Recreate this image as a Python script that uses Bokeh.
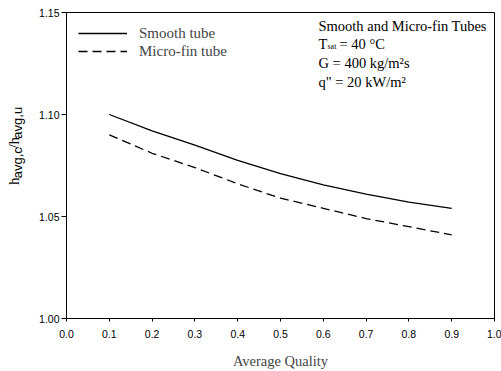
import math
from bokeh.plotting import figure
from bokeh.models import FixedTicker, PrintfTickFormatter, Label, Range1d
from bokeh.layouts import row
from bokeh.core.properties import value
from bokeh.embed import file_html
from bokeh.resources import INLINE

# ---- data ----
quality = [0.1, 0.2, 0.3, 0.4, 0.5, 0.6, 0.7, 0.8, 0.9]
smooth = [1.100, 1.092, 1.085, 1.0775, 1.071, 1.0655, 1.061, 1.057, 1.054]
microfin = [1.090, 1.081, 1.074, 1.066, 1.059, 1.054, 1.049, 1.045, 1.041]

x_ticks = [0.0, 0.1, 0.2, 0.3, 0.4, 0.5, 0.6, 0.7, 0.8, 0.9, 1.0]
y_ticks = [1.00, 1.05, 1.10, 1.15]

# y-axis title pieces (main text / subscript)
ylabel_parts = ["h", "avg,c", "/h", "avg,u"]

SERIF = "Liberation Serif"
SANS = "Liberation Sans"

LAB_W = 30

p = figure(width=501 - LAB_W, height=371, output_backend="svg", toolbar_location=None,
           x_range=Range1d(0, 1), y_range=Range1d(1.0, 1.15),
           min_border_left=66 - LAB_W, min_border_right=7, min_border_top=12,
           min_border_bottom=53)

p.xgrid.visible = False
p.ygrid.visible = False
p.outline_line_color = "black"
p.outline_line_width = 1
p.background_fill_color = "white"
p.border_fill_color = "white"

p.line(quality, smooth, line_color="black", line_width=1.3, legend_label="Smooth tube")
p.line(quality, microfin, line_color="black", line_width=1.3, line_dash="9 5",
       legend_label="Micro-fin tube")

# axes
for ax in (p.xaxis[0], p.yaxis[0]):
    ax.axis_line_color = "black"
    ax.major_tick_line_color = "black"
    ax.minor_tick_line_color = None
    ax.major_tick_in = 0
    ax.major_label_text_font = SANS
    ax.major_label_text_font_size = "10.5px"
    ax.major_label_text_color = "black"

p.xaxis.ticker = FixedTicker(ticks=x_ticks)
p.xaxis.formatter = PrintfTickFormatter(format="%.1f")
p.xaxis.major_tick_out = 3
p.xaxis.major_label_standoff = 8
p.xaxis.axis_label = "Average Quality"
p.xaxis.axis_label_text_font = SERIF
p.xaxis.axis_label_text_font_style = "normal"
p.xaxis.axis_label_text_font_size = "14.5px"
p.xaxis.axis_label_standoff = 12

p.yaxis.ticker = FixedTicker(ticks=y_ticks)
p.yaxis.formatter = PrintfTickFormatter(format="%.2f")
p.yaxis.major_tick_out = 5
p.yaxis.major_label_standoff = 2

# legend
lg = p.legend[0]
lg.location = "top_left"
lg.margin = 8
lg.padding = 4
lg.spacing = 0
lg.glyph_width = 49
lg.glyph_height = 18
lg.label_height = 18
lg.label_standoff = 12
lg.label_text_font = SERIF
lg.label_text_font_size = "15px"
lg.background_fill_alpha = 0
lg.border_line_alpha = 0

# annotation block (top right)
def ann(text, x, y, size="14.5px"):
    p.add_layout(Label(x=x, y=y, x_units="screen", y_units="screen", text=text,
                       text_font=SERIF, text_font_size=size,
                       text_align="left", text_baseline="middle", text_color="black"))

ann("Smooth and Micro-fin Tubes", 252, 306 - 13)
ann("T", 252, 306 - 31)
ann("sat", 261, 306 - 34, "8px")
ann("= 40 °C", 273, 306 - 31)
ann("G = 400 kg/m²s", 252, 306 - 50)
ann("q\" = 20 kW/m²", 252, 306 - 69)

# ---- narrow strip holding the rotated y-axis title ----
lab = figure(width=LAB_W, height=371, output_backend="svg", toolbar_location=None,
             x_range=Range1d(0, LAB_W), y_range=Range1d(0, 371),
             min_border=0, outline_line_color=None)
lab.axis.visible = False
lab.grid.visible = False
lab.background_fill_color = "white"
lab.border_fill_color = "white"

part_x = [13, 17, 13, 17]
part_y = [162, 170, 206, 218]
part_size = ["15px", "13px", "15px", "13px"]
part_font = [SERIF, SANS, SERIF, SANS]
for t, xx, yy, sz, fn in zip(ylabel_parts, part_x, part_y, part_size, part_font):
    lab.text(x=[xx], y=[yy], text=[t], angle=math.pi / 2, text_font=value(fn),
             text_font_size=value(sz), text_align="left", text_baseline="middle",
             text_color="black")

layout = row(lab, p, spacing=0)
open("out.html", "w").write(file_html(layout, INLINE))
